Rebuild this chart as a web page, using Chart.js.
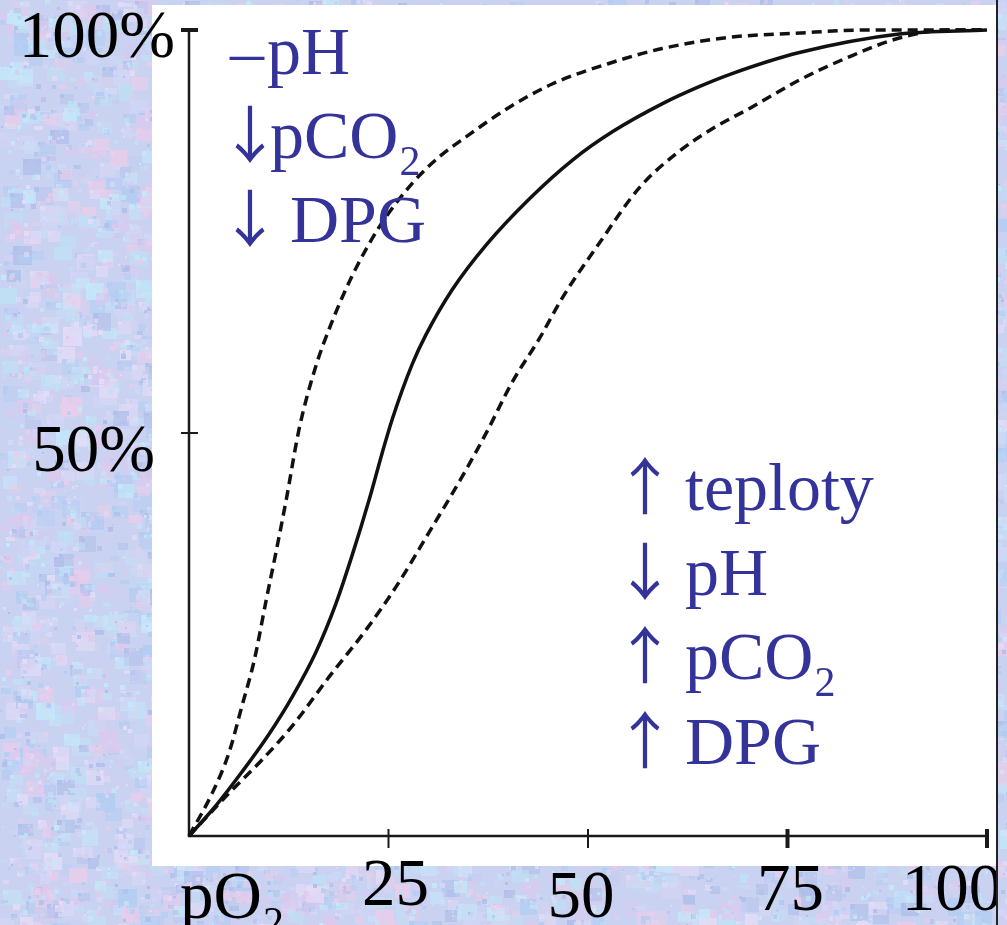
<!DOCTYPE html>
<html lang="cs">
<head>
  <meta charset="UTF-8">
  <title>Disociační křivka hemoglobinu</title>
  <style>
    html, body {
      margin: 0;
      padding: 0;
      background: #c8d0f0;
      overflow: hidden;
    }
    #curve { display: block; }
  </style>
</head>
<body>
  <canvas id="curve" width="1007" height="925"></canvas>

  <script src="https://cdn.jsdelivr.net/npm/chart.js"></script>
  <script>
    // pO2 (x) and saturation in % (y)
    const leftX  = [0, 2.9, 5.0, 6.6, 8.2, 9.7, 10.9, 12.2, 13.8, 15.9, 17.8, 19.5, 21.0, 23.8, 28.0, 31.4, 34.8, 39.8, 45.5, 53.1, 59.3, 67.8, 76, 85, 100];
    const leftY  = [0, 5.3, 10.3, 16.0, 21.9, 29.4, 35.2, 41.8, 50.5, 58.3, 63.5, 67.5, 70.6, 75.5, 81.0, 84.3, 86.8, 90.2, 93.3, 96.0, 97.7, 99.1, 99.6, 100, 100];

    const midX   = [0, 3.4, 6.6, 10.0, 12.9, 15.9, 18.4, 20.5, 22.6, 24.2, 25.5, 28.0, 29.7, 33.0, 37.3, 42.7, 48.1, 53.1, 59.4, 64.0, 67.8, 76.5, 89, 100];
    const midY   = [0, 3.8, 7.9, 12.6, 17.2, 22.8, 28.8, 35.0, 41.8, 47.5, 51.8, 58.6, 62.2, 67.8, 73.4, 79.1, 83.9, 87.4, 90.9, 93.0, 94.5, 97.2, 99.5, 100];

    const rightX = [0, 5.0, 9.2, 12.9, 17.6, 22.2, 26.0, 30.1, 34.3, 37.3, 40.5, 43.9, 46.8, 51.1, 56.5, 61.5, 66.0, 70.3, 76.5, 82.8, 89, 95, 100];
    const rightY = [0, 5.3, 9.5, 13.6, 19.8, 25.6, 31.0, 37.7, 44.7, 50.1, 56.3, 61.7, 66.8, 73.1, 80.5, 85.0, 88.0, 90.3, 93.8, 96.7, 99.0, 100, 100];

    const xTicks = [25, 50, 75, 100];
    const xTickLabels = ['25', '50', '75', '100'];
    const yTicks = [50, 100];
    const yTickLabels = ['50%', '100%'];

    // [sign, word, subscript]
    const leftNotes  = [['–', 'pH', ''], ['↓', 'pCO', '2'], ['↓', 'DPG', '']];
    const rightNotes = [['↑', 'teploty', ''], ['↓', 'pH', ''], ['↑', 'pCO', '2'], ['↑', 'DPG', '']];

    const pts = (xs, ys) => xs.map((x, i) => ({ x: x, y: ys[i] }));

    const SERIF = "'Liberation Serif', 'Times New Roman', 'DejaVu Serif', serif";
    const ARROWS = "'Noto Sans CJK JP', 'Noto Sans CJK SC', 'DejaVu Sans', sans-serif";
    const BLUE = '#333399';

    // mottled slide background, drawn once
    const bg = document.createElement('canvas');
    bg.width = 1007;
    bg.height = 925;
    (function () {
      const g = bg.getContext('2d');
      g.fillStyle = '#c9d2f1';
      g.fillRect(0, 0, bg.width, bg.height);
      const colors = ['#b3cdf3', '#dcc9ee', '#c4e8f9', '#e4dcf6', '#b0bfea', '#d2d6f5', '#e8cdea', '#bfe0f5'];
      let seed = 12345;
      const rnd = () => {
        seed = (seed * 1103515245 + 12345) & 0x7fffffff;
        return seed / 0x7fffffff;
      };
      for (let i = 0; i < 9000; i++) {
        g.globalAlpha = 0.25 + rnd() * 0.4;
        g.fillStyle = colors[Math.floor(rnd() * colors.length)];
        const s = 6 + Math.floor(rnd() * 14);
        g.fillRect(Math.floor(rnd() * bg.width), Math.floor(rnd() * bg.height), s, Math.max(4, s - Math.floor(rnd() * 6)));
      }
      for (let i = 0; i < 22000; i++) {
        g.globalAlpha = 0.3 + rnd() * 0.5;
        g.fillStyle = colors[Math.floor(rnd() * colors.length)];
        const s = 2 + Math.floor(rnd() * 4);
        g.fillRect(Math.floor(rnd() * bg.width), Math.floor(rnd() * bg.height), s, s);
      }
      g.globalAlpha = 1;
    })();

    function drawNote(c, note, signCx, wordX, baseY) {
      c.fillStyle = BLUE;
      c.textBaseline = 'alphabetic';
      c.textAlign = 'center';
      if (note[0] === '–') {
        c.font = '68px ' + SERIF;
      } else {
        c.font = '62px ' + ARROWS;
      }
      c.fillText(note[0], signCx, baseY);
      c.textAlign = 'left';
      c.font = '68px ' + SERIF;
      c.fillText(note[1], wordX, baseY);
      if (note[2]) {
        const w = c.measureText(note[1]).width;
        c.font = '42px ' + SERIF;
        c.fillText(note[2], wordX + w + 1, baseY + 17);
      }
    }

    const slidePlugin = {
      id: 'slide',
      beforeDraw(chart) {
        const c = chart.ctx;
        c.save();
        c.drawImage(bg, 0, 0);
        c.fillStyle = '#ffffff';
        c.fillRect(152, 5, 845, 861);
        c.restore();
      },
      beforeDatasetsDraw(chart) {
        const c = chart.ctx;
        const xs = chart.scales.x;
        const ys = chart.scales.y;
        const x0 = xs.getPixelForValue(0);
        const y0 = ys.getPixelForValue(0);
        c.save();
        c.strokeStyle = '#1a1a1a';
        c.lineWidth = 2.5;
        c.beginPath();
        c.moveTo(x0, ys.getPixelForValue(100) - 2);
        c.lineTo(x0, y0);
        c.lineTo(xs.getPixelForValue(100), y0);
        c.stroke();

        yTicks.forEach((v) => {
          const py = ys.getPixelForValue(v);
          c.lineWidth = v === 100 ? 4 : 2;
          c.beginPath();
          c.moveTo(x0 - 8, py);
          c.lineTo(x0 + 9, py);
          c.stroke();
        });
        xTicks.forEach((v) => {
          const px = xs.getPixelForValue(v);
          c.lineWidth = v >= 75 ? 4 : 2;
          c.beginPath();
          c.moveTo(px, y0 - 7);
          c.lineTo(px, y0 + 12);
          c.stroke();
        });
        c.restore();
      },
      afterDraw(chart) {
        const c = chart.ctx;
        const xs = chart.scales.x;
        const ys = chart.scales.y;
        c.save();

        // axis numbers
        c.fillStyle = '#000000';
        c.font = '67px ' + SERIF;
        c.textBaseline = 'alphabetic';
        const yNudge = { 100: [-14, 27], 50: [-34, 38] };
        yTicks.forEach((v, i) => {
          c.textAlign = 'right';
          c.fillText(yTickLabels[i], xs.getPixelForValue(0) + yNudge[v][0], ys.getPixelForValue(v) + yNudge[v][1]);
        });

        const xNudge = { 25: [7, 69], 50: [-7, 81], 75: [3, 74], 100: [-35, 74] };
        c.save();
        c.beginPath();
        c.rect(0, 0, 996, 925);
        c.clip();
        xTicks.forEach((v, i) => {
          c.textAlign = 'center';
          c.fillText(xTickLabels[i], xs.getPixelForValue(v) + xNudge[v][0], ys.getPixelForValue(0) + xNudge[v][1]);
        });
        c.restore();

        // axis title
        c.textAlign = 'left';
        c.font = '67px ' + SERIF;
        c.fillText('pO', 180, 918);
        const pw = c.measureText('pO').width;
        c.font = '42px ' + SERIF;
        c.fillText('2', 180 + pw + 1, 936);

        // right frame line of the slide picture
        c.strokeStyle = '#222222';
        c.lineWidth = 2;
        c.beginPath();
        c.moveTo(997, 0);
        c.lineTo(997, 925);
        c.stroke();

        // notes
        drawNote(c, leftNotes[0], 247, 267, 74);
        drawNote(c, leftNotes[1], 250, 270, 158);
        drawNote(c, leftNotes[2], 250, 290, 242);
        rightNotes.forEach((n, i) => drawNote(c, n, 645, 685, 510 + i * 84.5));

        c.restore();
      }
    };

    const lineStyle = {
      borderColor: '#111111',
      borderWidth: 3.5,
      pointRadius: 0,
      cubicInterpolationMode: 'monotone',
      fill: false,
      clip: 8
    };

    new Chart(document.getElementById('curve'), {
      type: 'line',
      data: {
        datasets: [
          Object.assign({ label: 'vyšší afinita', data: pts(leftX, leftY), borderDash: [10, 6] }, lineStyle),
          Object.assign({ label: 'normální', data: pts(midX, midY) }, lineStyle),
          Object.assign({ label: 'nižší afinita', data: pts(rightX, rightY), borderDash: [10, 6] }, lineStyle)
        ]
      },
      options: {
        responsive: false,
        animation: false,
        layout: { padding: { left: 189, right: 20, top: 30, bottom: 89 } },
        scales: {
          x: { type: 'linear', min: 0, max: 100, display: false },
          y: { type: 'linear', min: 0, max: 100, display: false }
        },
        plugins: {
          legend: { display: false },
          tooltip: { enabled: false }
        }
      },
      plugins: [slidePlugin]
    });
  </script>
</body>
</html>
